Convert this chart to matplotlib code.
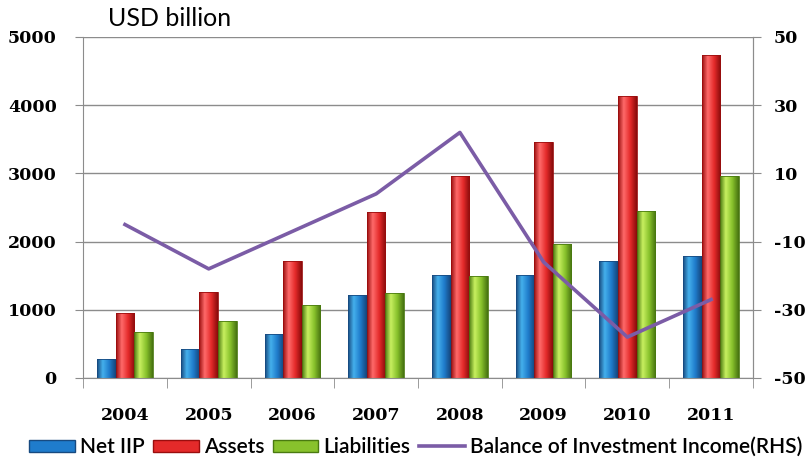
import matplotlib
matplotlib.use("Agg")
import matplotlib.pyplot as plt
import numpy as np
from matplotlib.colors import LinearSegmentedColormap
from matplotlib.font_manager import FontProperties
from matplotlib.patches import Patch
from matplotlib.lines import Line2D

plt.rcParams['axes.unicode_minus'] = False

years = ['2004', '2005', '2006', '2007', '2008', '2009', '2010', '2011']
net_iip = [280, 425, 650, 1210, 1510, 1510, 1710, 1790]
assets = [950, 1255, 1715, 2435, 2960, 3460, 4140, 4730]
liabilities = [670, 835, 1070, 1245, 1490, 1965, 2450, 2960]
income = [-5, -18, -7, 4, 22, -16, -38, -27]

series = [
    ('Net IIP', net_iip, ['#174a80', '#45b0ec', '#1f7ccc', '#15457a'], '#1f7ccc'),
    ('Assets', assets, ['#9a0e0e', '#ff6a6a', '#e42a2a', '#880b0b'], '#e42a2a'),
    ('Liabilities', liabilities, ['#4a7a10', '#c8f060', '#88c22c', '#467210'], '#88c22c'),
]
line_color = '#7b5ca6'
grid_color = '#8c8c8c'
tick_font = {'family': 'DejaVu Serif', 'weight': 'bold', 'size': 12.5}

fig = plt.figure(figsize=(8.07, 4.63), dpi=100)
ax = fig.add_axes([0.103, 0.1836, 0.830, 0.7365])

x = np.arange(len(years))
w = 0.222
grad = np.linspace(0, 1, 64).reshape(1, -1)
for i, (name, vals, cols, mid) in enumerate(series):
    cmap = LinearSegmentedColormap.from_list(name, list(zip([0, 0.3, 0.65, 1], cols)))
    bars = ax.bar(x + (i - 1) * w, vals, width=w, facecolor='none',
                  edgecolor=cols[0], linewidth=0.6, zorder=3)
    # shaded fill clipped to each bar
    for p in bars:
        x0, h = p.get_x(), p.get_height()
        im = ax.imshow(grad, extent=(x0, x0 + p.get_width(), 0, h), aspect='auto',
                       cmap=cmap, zorder=2, interpolation='bilinear')
        im.set_clip_path(p)

ax.set_xlim(-0.5, len(years) - 0.5)
ax.set_ylim(0, 5000)
ax.set_yticks(range(0, 5001, 1000))
ax.set_axisbelow(True)
ax.grid(axis='y', color=grid_color, linewidth=1)
ax.set_xticks(x)
ax.set_xticklabels(years, fontdict=tick_font)
ax.set_xticks(np.arange(-0.5, len(years)), minor=True)
ax.tick_params(axis='x', which='major', length=0, pad=21)
ax.tick_params(axis='x', which='minor', length=7, color=grid_color, direction='out')
ax.tick_params(axis='y', length=6, color=grid_color, pad=13)
for lab in ax.get_yticklabels():
    lab.set_fontproperties(FontProperties(**tick_font))
for s in ['left', 'right', 'bottom']:
    ax.spines[s].set_color(grid_color)
ax.spines['top'].set_visible(False)

ax2 = ax.twinx()
ax2.plot(x, income, color=line_color, linewidth=2.6, zorder=5)
ax2.set_ylim(-50, 50)
ax2.set_yticks(range(-50, 51, 20))
ax2.tick_params(axis='y', length=6, color=grid_color, pad=9)
for lab in ax2.get_yticklabels():
    lab.set_fontproperties(FontProperties(**tick_font))
ax2.spines['top'].set_visible(False)
ax2.spines['right'].set_color(grid_color)
ax2.spines['left'].set_visible(False)
ax2.spines['bottom'].set_visible(False)

fig.text(108 / 807, 1 - 18 / 463, 'USD billion', fontsize=18, family='Lato', va='center')

handles = [Patch(facecolor=mid, edgecolor=cols[0]) for _, _, cols, mid in series]
handles.append(Line2D([], [], color=line_color, linewidth=2.6))
labels = [s[0] for s in series] + ['Balance of Investment Income(RHS)']
fig.legend(handles, labels, loc='center', bbox_to_anchor=(0.515, 1 - 447 / 463), ncol=4,
           frameon=False, prop={'family': 'Lato', 'size': 15, 'weight': 'semibold'},
           handlelength=2.2, handleheight=0.5, handletextpad=0.25, columnspacing=0.4)

fig.savefig('out.png', dpi=100)
